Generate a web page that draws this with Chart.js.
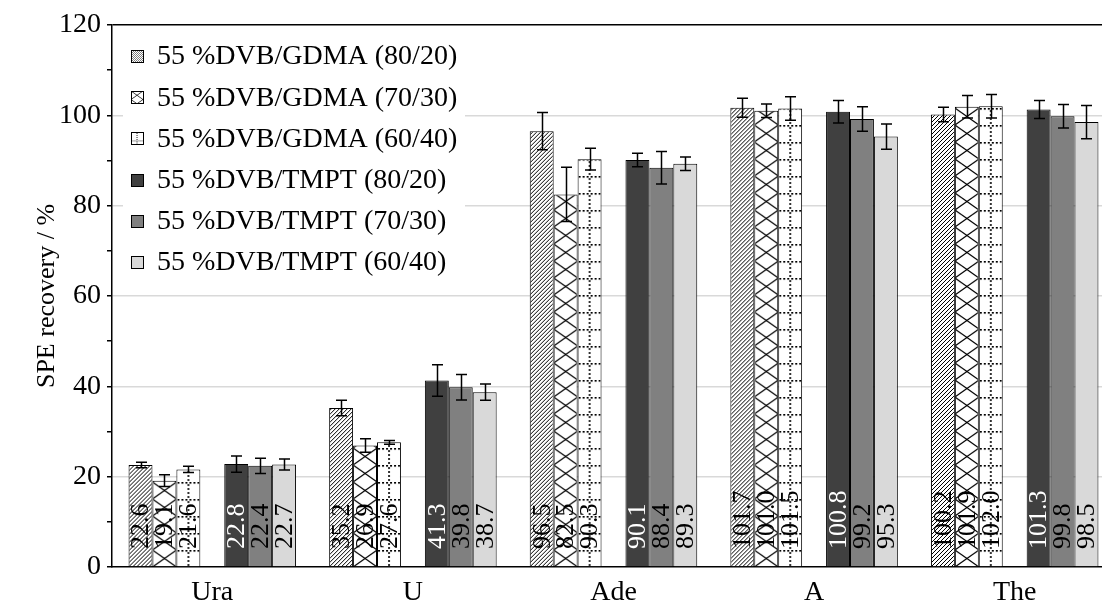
<!DOCTYPE html>
<html>
<head>
<meta charset="utf-8">
<script src="https://cdn.jsdelivr.net/npm/chart.js@4/dist/chart.umd.min.js"></script>
<style>
  html, body { margin: 0; padding: 0; background: #fff; overflow: hidden; }
  canvas { display: block; }
</style>
</head>
<body>
<canvas id="c" width="1116" height="610"></canvas>
<script>
// Analytes on the x axis
const categories = ['Ura', 'U', 'Ade', 'A', 'The'];

// Series names
const seriesNames = [
  '55 %DVB/GDMA (80/20)',
  '55 %DVB/GDMA (70/30)',
  '55 %DVB/GDMA (60/40)',
  '55 %DVB/TMPT (80/20)',
  '55 %DVB/TMPT (70/30)',
  '55 %DVB/TMPT (60/40)'
];

// Mean SPE recovery (%)
const gdma8020 = [22.6, 35.2, 96.5, 101.7, 100.2];
const gdma7030 = [19.1, 26.9, 82.5, 101.0, 101.9];
const gdma6040 = [21.6, 27.6, 90.3, 101.5, 102.0];
const tmpt8020 = [22.8, 41.3, 90.1, 100.8, 101.3];
const tmpt7030 = [22.4, 39.8, 88.4, 99.2, 99.8];
const tmpt6040 = [22.7, 38.7, 89.3, 95.3, 98.5];

// Standard deviations (error bars)
const errGdma8020 = [0.6, 1.7, 4.1, 2.1, 1.6];
const errGdma7030 = [1.3, 1.5, 6.0, 1.5, 2.5];
const errGdma6040 = [0.7, 0.4, 2.4, 2.6, 2.6];
const errTmpt8020 = [1.8, 3.5, 1.5, 2.5, 2.0];
const errTmpt7030 = [1.7, 2.8, 3.6, 2.7, 2.6];
const errTmpt6040 = [1.2, 1.8, 1.5, 2.8, 3.7];

// y axis
const yMin = 0, yMax = 120, yMinorStep = 10, yMajorStep = 20;

const FONT = '"Liberation Serif", "Times New Roman", serif';
const CAT_PCT = 0.835;
const SLOTS = 7; // six series plus an empty gap slot in the middle

// ---- fill patterns -------------------------------------------------------
const tiles = {};
function makeTile(kind) {
  if (tiles[kind]) return tiles[kind];
  const c = document.createElement('canvas');
  let g;
  if (kind === 'hatch') {
    c.width = 4; c.height = 4;
    g = c.getContext('2d');
    g.fillStyle = '#fff'; g.fillRect(0, 0, 4, 4);
    g.strokeStyle = '#000'; g.lineWidth = 1;
    g.beginPath();
    g.moveTo(-1, 5); g.lineTo(5, -1);
    g.moveTo(-1, 1); g.lineTo(1, -1);
    g.moveTo(3, 5); g.lineTo(5, 3);
    g.stroke();
  } else if (kind === 'cross') {
    c.width = 24; c.height = 17;
    g = c.getContext('2d');
    g.fillStyle = '#fff'; g.fillRect(0, 0, 24, 17);
    g.strokeStyle = '#000'; g.lineWidth = 1.2;
    g.beginPath();
    g.moveTo(0, 0); g.lineTo(24, 17);
    g.moveTo(0, 17); g.lineTo(24, 0);
    g.stroke();
  } else if (kind === 'dots') {
    c.width = 24; c.height = 17;
    g = c.getContext('2d');
    g.fillStyle = '#fff'; g.fillRect(0, 0, 24, 17);
    g.fillStyle = '#000';
    for (let x = 0; x < 24; x += 4) g.fillRect(x + 1, 0, 2, 1.6);
    for (let y = 0; y < 17; y += 4) g.fillRect(11.2, y + 2, 1.6, 2);
  }
  tiles[kind] = c;
  return c;
}

function pattern(ctx, kind, ox, oy, s) {
  const p = ctx.createPattern(makeTile(kind), 'repeat');
  p.setTransform(new DOMMatrix().translate(ox, oy).scale(s || 1));
  return p;
}

// Pattern anchored to the bar's own left edge and the zero line
function barPattern(kind) {
  return function (c) {
    const chart = c.chart;
    const xs = chart.scales && chart.scales.x;
    const ys = chart.scales && chart.scales.y;
    if (!xs || !ys || c.dataIndex === undefined || !xs.width) {
      return pattern(chart.ctx, kind, 0, 0);
    }
    const catW = xs.width / categories.length;
    const slot = catW * CAT_PCT / SLOTS;
    const left = xs.getPixelForValue(c.dataIndex) + (c.datasetIndex - SLOTS / 2) * slot;
    return pattern(chart.ctx, kind, left, ys.getPixelForValue(0));
  };
}

// ---- datasets --------------------------------------------------------------
const seriesValues = [gdma8020, gdma7030, gdma6040, null, tmpt8020, tmpt7030, tmpt6040];
const seriesErrors = [errGdma8020, errGdma7030, errGdma6040, null, errTmpt8020, errTmpt7030, errTmpt6040];
const seriesFills = [barPattern('hatch'), barPattern('cross'), barPattern('dots'), null, '#404040', '#808080', '#d9d9d9'];
const legendKinds = ['hatch', 'cross', 'dots', '#404040', '#808080', '#d9d9d9'];
const labelColors = ['#000', '#000', '#000', null, '#fff', '#000', '#000'];

const datasets = seriesValues.map((vals, i) => {
  if (!vals) {
    return { label: '', data: categories.map(() => null), backgroundColor: 'transparent', borderWidth: 0, spacer: true };
  }
  const nameIdx = i < 3 ? i : i - 1;
  return {
    label: seriesNames[nameIdx],
    data: vals,
    errors: seriesErrors[i],
    labelColor: labelColors[i],
    backgroundColor: seriesFills[i],
    borderColor: '#000',
    borderWidth: 1,
    borderSkipped: 'bottom'
  };
});

// ---- plugins ------------------------------------------------------------------
const valueLabels = {
  id: 'valueLabels',
  afterDatasetsDraw(chart) {
    const ctx = chart.ctx;
    const base = chart.scales.y.getPixelForValue(0);
    ctx.save();
    ctx.font = '26px ' + FONT;
    ctx.textAlign = 'left';
    ctx.textBaseline = 'middle';
    chart.data.datasets.forEach((ds, di) => {
      if (ds.spacer) return;
      const meta = chart.getDatasetMeta(di);
      meta.data.forEach((el, i) => {
        ctx.save();
        ctx.translate(el.x, base - 18);
        ctx.rotate(-Math.PI / 2);
        ctx.fillStyle = ds.labelColor;
        ctx.fillText(ds.data[i].toFixed(1), 0, 1);
        ctx.restore();
      });
    });
    ctx.restore();
  }
};

const errorBars = {
  id: 'errorBars',
  afterDatasetsDraw(chart) {
    const ctx = chart.ctx;
    const ys = chart.scales.y;
    ctx.save();
    ctx.strokeStyle = '#000';
    ctx.lineWidth = 1.5;
    chart.data.datasets.forEach((ds, di) => {
      if (ds.spacer) return;
      const meta = chart.getDatasetMeta(di);
      meta.data.forEach((el, i) => {
        const v = ds.data[i], e = ds.errors[i];
        const t = ys.getPixelForValue(v + e);
        const b = ys.getPixelForValue(v - e);
        const x = Math.round(el.x) + 0.5;
        ctx.beginPath();
        ctx.moveTo(x, t); ctx.lineTo(x, b);
        ctx.moveTo(x - 5.5, t); ctx.lineTo(x + 5.5, t);
        ctx.moveTo(x - 5.5, b); ctx.lineTo(x + 5.5, b);
        ctx.stroke();
      });
    });
    ctx.restore();
  }
};

const boxLegend = {
  id: 'boxLegend',
  afterDraw(chart) {
    const ctx = chart.ctx;
    ctx.save();
    ctx.fillStyle = '#fff';
    ctx.fillRect(123, 34, 342, 248);
    ctx.font = '28px ' + FONT;
    ctx.textAlign = 'left';
    ctx.textBaseline = 'middle';
    seriesNames.forEach((name, i) => {
      const yc = 56 + i * 41.2;
      const sx = 131, sy = Math.round(yc - 6), sz = 12;
      const k = legendKinds[i];
      ctx.fillStyle = k.startsWith('#') ? k : pattern(ctx, k, sx, sy, 0.5);
      ctx.fillRect(sx, sy, sz, sz);
      ctx.strokeStyle = '#000';
      ctx.lineWidth = 1;
      ctx.strokeRect(sx + 0.5, sy + 0.5, sz, sz);
      ctx.fillStyle = '#000';
      ctx.fillText(name, 157, yc + 1);
    });
    ctx.restore();
  }
};

// ---- chart -------------------------------------------------------------------
new Chart(document.getElementById('c'), {
  type: 'bar',
  data: { labels: categories, datasets },
  options: {
    responsive: false,
    devicePixelRatio: 1,
    animation: false,
    events: [],
    layout: { padding: { left: 0, right: 1, top: 25, bottom: 0 } },
    datasets: { bar: { categoryPercentage: CAT_PCT, barPercentage: 1 } },
    plugins: { legend: { display: false }, tooltip: { enabled: false } },
    scales: {
      x: {
        grid: { display: true, color: 'transparent', drawTicks: false },
        border: { display: true, color: '#000', width: 1.5 },
        ticks: { color: '#000', font: { family: FONT, size: 28 }, padding: 9, maxRotation: 0 },
        afterFit(s) { s.height = 43; }
      },
      y: {
        min: yMin, max: yMax,
        grid: {
          color: c => c.tick.value === yMax ? '#000' :
                      (c.tick.value % yMajorStep === 0 && c.tick.value !== yMin ? '#d9d9d9' : 'transparent'),
          lineWidth: 1.5,
          tickColor: '#000',
          tickLength: 5,
          drawTicks: true
        },
        border: { display: true, color: '#000', width: 1.5 },
        ticks: {
          stepSize: yMinorStep,
          color: '#000',
          font: { family: FONT, size: 28 },
          padding: 6,
          callback: v => (v % yMajorStep === 0 ? String(v) : '')
        },
        title: {
          display: true,
          text: 'SPE recovery / %',
          color: '#000',
          font: { family: FONT, size: 26 },
          padding: { top: 32, bottom: 0 }
        },
        afterFit(s) { s.width = 112; }
      }
    }
  },
  plugins: [valueLabels, errorBars, boxLegend]
});
</script>
</body>
</html>
